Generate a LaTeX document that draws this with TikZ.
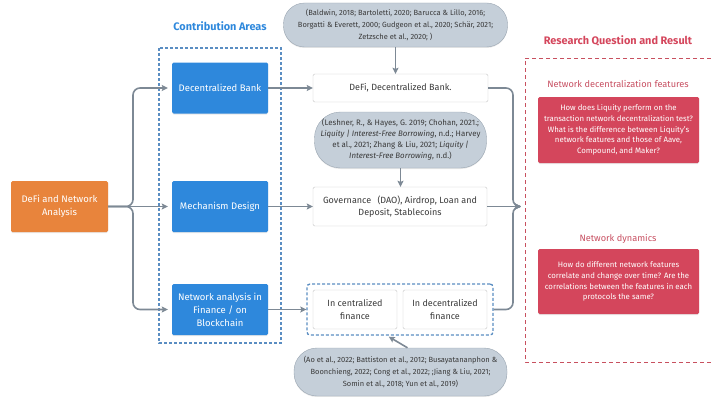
\documentclass[tikz,border=0pt]{standalone}
\usepackage{fontspec}
\setmainfont{Fira Sans}
\usetikzlibrary{arrows.meta,shadows}
\definecolor{areablue}{HTML}{2E88DC}
\definecolor{startorange}{HTML}{E8843C}
\definecolor{questred}{HTML}{D4465C}
\definecolor{citefill}{HTML}{C5CFD9}
\definecolor{citeline}{HTML}{9AA6B2}
\definecolor{linkgray}{HTML}{7D8995}
\definecolor{textgray}{HTML}{3A3A3A}
\definecolor{frameblue}{HTML}{5A8DC2}
\definecolor{framered}{HTML}{C8505F}
\tikzstyle{softshadow} = [drop shadow={shadow xshift=0pt, shadow yshift=-1pt, opacity=0.18}]
\tikzstyle{areabox} = [fill=areablue, text=white, rectangle, rounded corners=1.5pt,
    minimum width=96pt, minimum height=51pt, align=center, inner sep=2pt,
    font=\fontsize{9.5}{13}\selectfont, softshadow]
\tikzstyle{startbox} = [areabox, fill=startorange, minimum width=97pt]
\tikzstyle{topicbox} = [draw=black!22, fill=white, text=textgray, rectangle, rounded corners=1.5pt,
    align=center, inner sep=2pt, font=\fontsize{9}{12.5}\selectfont]
\tikzstyle{citebox} = [draw=citeline, fill=citefill, text=textgray, rectangle, rounded corners=21pt,
    align=center, inner sep=2pt, font=\fontsize{7.5}{11.8}\selectfont, softshadow]
\tikzstyle{questbox} = [fill=questred, text=white, rectangle, rounded corners=1.5pt,
    minimum width=161pt, align=center, inner sep=2pt, font=\fontsize{7.8}{10.7}\selectfont, softshadow]
\tikzstyle{areatitle} = [text=areablue, font=\bfseries\fontsize{10.9}{12}\selectfont]
\tikzstyle{resulttitle} = [text=questred, font=\bfseries\fontsize{10.9}{12}\selectfont]
\tikzstyle{questtitle} = [text=questred!85!gray, font=\fontsize{9.2}{11}\selectfont]
\tikzstyle{areaframe} = [draw=frameblue, line width=1.3pt, dash pattern=on 3pt off 2pt]
\tikzstyle{resultframe} = [draw=framered, line width=1pt, dash pattern=on 4pt off 3pt]
\tikzstyle{link} = [draw=linkgray, line width=1.6pt, -{Stealth[length=6pt,width=6pt,inset=1pt]}]

\begin{document}
\begin{tikzpicture}[x=1pt,y=-1pt]
\useasboundingbox (0,0) rectangle (711,396);
\draw[areaframe] (159,48) rectangle (281,343);
\draw[resultframe] (711,58) -- (525,58) -- (525,362) -- (711,362);
\node[areatitle] (areas) at (220,26) {Contribution Areas};
\node[resulttitle] (result) at (618,41) {Research Question and Result};

\node[startbox] (start) at (59.5,206.5) {DeFi and Network\\Analysis};
\node[areabox] (bank) at (220,88) {Decentralized Bank};
\node[areabox] (mech) at (220,206.5) {Mechanism Design};
\node[areabox] (netfin) at (220,309.5) {Network analysis in\\Finance / on\\Blockchain};

\node[topicbox, minimum width=175pt, minimum height=28pt] (defi) at (400.5,88) {DeFi, Decentralized Bank.};
\node[topicbox, minimum width=174pt, minimum height=39pt] (gov) at (400,206.5)
    {Governance\hspace{0.7em}(DAO), Airdrop, Loan and\\Deposit, Stablecoins};
\node[areaframe, rectangle, rounded corners=3pt, minimum width=186pt, minimum height=51pt] (finbox) at (400,309.5) {};
\node[topicbox, minimum width=84pt, minimum height=39pt] (cent) at (355,309.5) {In centralized\\finance};
\node[topicbox, minimum width=84pt, minimum height=39pt] (decent) at (445,309.5) {In decentralized\\finance};

\node[citebox, minimum width=224pt, minimum height=44pt] (cite1) at (395.5,25)
    {(Baldwin, 2018; Bartoletti, 2020; Barucca \& Lillo, 2016;\\
     Borgatti \& Everett, 2000; Gudgeon et al., 2020; Schär, 2021;\\
     Zetzsche et al., 2020; )};
\node[citebox, minimum width=172pt, minimum height=56pt, rounded corners=26pt,
    font=\fontsize{7.9}{11}\selectfont] (cite2) at (400.5,140)
    {(Leshner, R., \& Hayes, G. 2019; Chohan, 2021.;\\
     \textit{Liquity | Interest-Free Borrowing}, n.d.; Harvey\\
     et al., 2021; Zhang \& Liu, 2021; \textit{Liquity |}\\
     \textit{Interest-Free Borrowing}, n.d.)};
\node[citebox, minimum width=213pt, minimum height=48pt, rounded corners=23pt] (cite3) at (400.5,372)
    {(Ao et al., 2022; Battiston et al., 2012; Busayatananphon \&\\
     Boonchieng, 2022; Cong et al., 2022; ;Jiang \& Liu, 2021;\\
     Somin et al., 2018; Yun et al., 2019)};

\node[questtitle] (q1title) at (618,84) {Network decentralization features};
\node[questbox, minimum height=66pt] (q1) at (618.5,130)
    {How does Liquity perform on the\\
     transaction network decentralization test?\\
     What is the difference between Liquity's\\
     network features and those of Aave,\\
     Compound, and Maker?};
\node[questtitle] (q2title) at (618,239) {Network dynamics};
\node[questbox, minimum height=65pt] (q2) at (618.5,281.5)
    {How do different network features\\
     correlate and change over time? Are the\\
     correlations between the features in each\\
     protocols the same?};

\draw[link] (start.east) -- ([xshift=-4pt]mech.west);
\draw[link, rounded corners=7pt] (start.east) -- (133,206.5) |- ([xshift=-4pt]bank.west);
\draw[link, rounded corners=7pt] (start.east) -- (133,206.5) |- ([xshift=-4pt]netfin.west);

\draw[link] (bank.east) -- (defi.west);
\draw[link] (mech.east) -- (gov.west);
\draw[link] (netfin.east) -- (finbox.west);

\draw[link] (cite1.south) -- (cite1.south |- defi.north);
\draw[link] (cite2.south) -- (cite2.south |- gov.north);
\draw[link, shorten >=2pt] ([xshift=7pt]cite3.north) -- ([xshift=-13pt]finbox.south);

\coordinate (merge) at (521,206.5);
\draw[link] (gov.east) -- (merge);
\draw[link, rounded corners=7pt] (defi.east) -| (513,206.5) -- (merge);
\draw[link, rounded corners=7pt] (finbox.east) -| (513,206.5) -- (merge);
\end{tikzpicture}
\end{document}
